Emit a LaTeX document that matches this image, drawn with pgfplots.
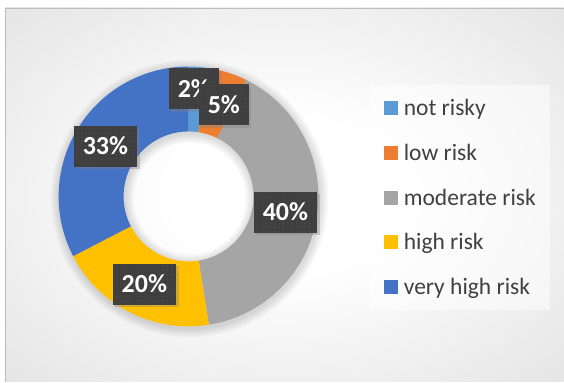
\documentclass[border=0pt]{standalone}
\usepackage{fontspec}
\setmainfont{Carlito}
\usepackage{pgfplots}
\pgfplotsset{compat=1.18}
\usetikzlibrary{shadows,patterns.meta}
\definecolor{cNot}{HTML}{5B9BD5}
\definecolor{cLow}{HTML}{ED7D31}
\definecolor{cMod}{HTML}{A5A5A5}
\definecolor{cHigh}{HTML}{FFC000}
\definecolor{cVery}{HTML}{4472C4}
\definecolor{lblbg}{HTML}{3F3F3F}
\definecolor{lbldot}{HTML}{555555}
\definecolor{txt}{HTML}{404040}
\definecolor{bgmid}{HTML}{D6D6D6}
\definecolor{bgedge}{HTML}{C8C8C8}
\definecolor{bgline}{HTML}{BDBDBD}
\pgfdeclareradialshading{bgshade}{\pgfpoint{0bp}{0bp}}{color(0bp)=(white); color(10bp)=(white); color(50bp)=(bgmid); color(72bp)=(bgedge)}
% data (percent)
\def\vNot{2.4}
\def\vLow{4.9}
\def\vMod{40.2}
\def\vHigh{19.9}
\def\vVery{32.6}
% geometry (px = bp)
\def\cx{188.7}
\def\cy{185.4}
\def\Ro{130}
\def\Ri{65}
\pgfmathsetmacro{\aA}{90}
\pgfmathsetmacro{\aB}{\aA-3.6*\vNot}
\pgfmathsetmacro{\aC}{\aB-3.6*\vLow}
\pgfmathsetmacro{\aD}{\aC-3.6*\vMod}
\pgfmathsetmacro{\aE}{\aD-3.6*\vHigh}
\pgfmathsetmacro{\aF}{\aE-3.6*\vVery}
\newcommand{\ringslice}[3]{%
  \addplot[draw=none, fill=#3]
  ({\cx + ifthenelse(\t<100.5,\Ro,\Ri)*cos(ifthenelse(\t<100.5,(#1)+((#2)-(#1))*\t/100,(#2)-((#2)-(#1))*(\t-101)/100))},
   {\cy + ifthenelse(\t<100.5,\Ro,\Ri)*sin(ifthenelse(\t<100.5,(#1)+((#2)-(#1))*\t/100,(#2)-((#2)-(#1))*(\t-101)/100))}) -- cycle;
}
\begin{document}
\begin{tikzpicture}[x=1bp,y=1bp]
\fill[white] (0,0) rectangle (564,382);
\shade[shading=bgshade] (5,0) rectangle (564,374);
\draw[bgline, line width=1bp] (5.5,0) -- (5.5,373.5) -- (564,373.5);
\fill[white, opacity=0.5] (370,72) rectangle (550,297);
\begin{axis}[
  at={(0,0)}, anchor=south west,
  width=564bp, height=382bp, scale only axis,
  xmin=0, xmax=564, ymin=0, ymax=382,
  hide axis,
  domain=0:201, samples=202, variable=\t,
  legend style={at={(370/564,295/382)}, anchor=north west, draw=none, fill=none,
    inner xsep=14bp, inner ysep=12bp, row sep=24bp, column sep=6bp,
    font=\fontsize{23.5bp}{27bp}\selectfont, text=txt,
    nodes={inner sep=0pt, text height=16bp, text depth=5bp}},
  legend cell align=left,
  legend image code/.code={\fill[#1] (0bp,-5bp) rectangle (14bp,9bp);},
]
% soft shadow around the ring
\pgfplotsinvokeforeach{1,...,6}{
  \fill[black, opacity=0.025, even odd rule] (axis cs:\cx+1,\cy-2) circle[radius={(\Ro+1.5*#1)*1bp}] circle[radius={(\Ri-1.5*#1)*1bp}];
}
\ringslice{\aA}{\aB}{cNot}
\addlegendentry{not risky}
\ringslice{\aB}{\aC}{cLow}
\addlegendentry{low risk}
\ringslice{\aC}{\aD}{cMod}
\addlegendentry{moderate risk}
\ringslice{\aD}{\aE}{cHigh}
\addlegendentry{high risk}
\ringslice{\aE}{\aF}{cVery}
\addlegendentry{very high risk}
\addplot[draw=none, mark=none, forget plot,
  point meta=explicit symbolic, nodes near coords, nodes near coords align=center,
  nodes near coords style={fill=lblbg, text=white, anchor=center,
    font=\bfseries\fontsize{26bp}{30bp}\selectfont,
    inner xsep=9bp, inner ysep=0pt, minimum height=41bp, text height=16.5bp, text depth=0bp,
    drop shadow={shadow xshift=2.5bp, shadow yshift=-2.5bp, opacity=0.35},
    postaction={pattern={Dots[distance=4.3bp, radius=0.55bp]}, pattern color=lbldot}}]
  coordinates {(105.5,235.5) [33\%] (144.5,97.5) [20\%] (285.7,169.5) [40\%] (194,293) [2\%] (224,277) [5\%]};
\end{axis}
\end{tikzpicture}
\end{document}
